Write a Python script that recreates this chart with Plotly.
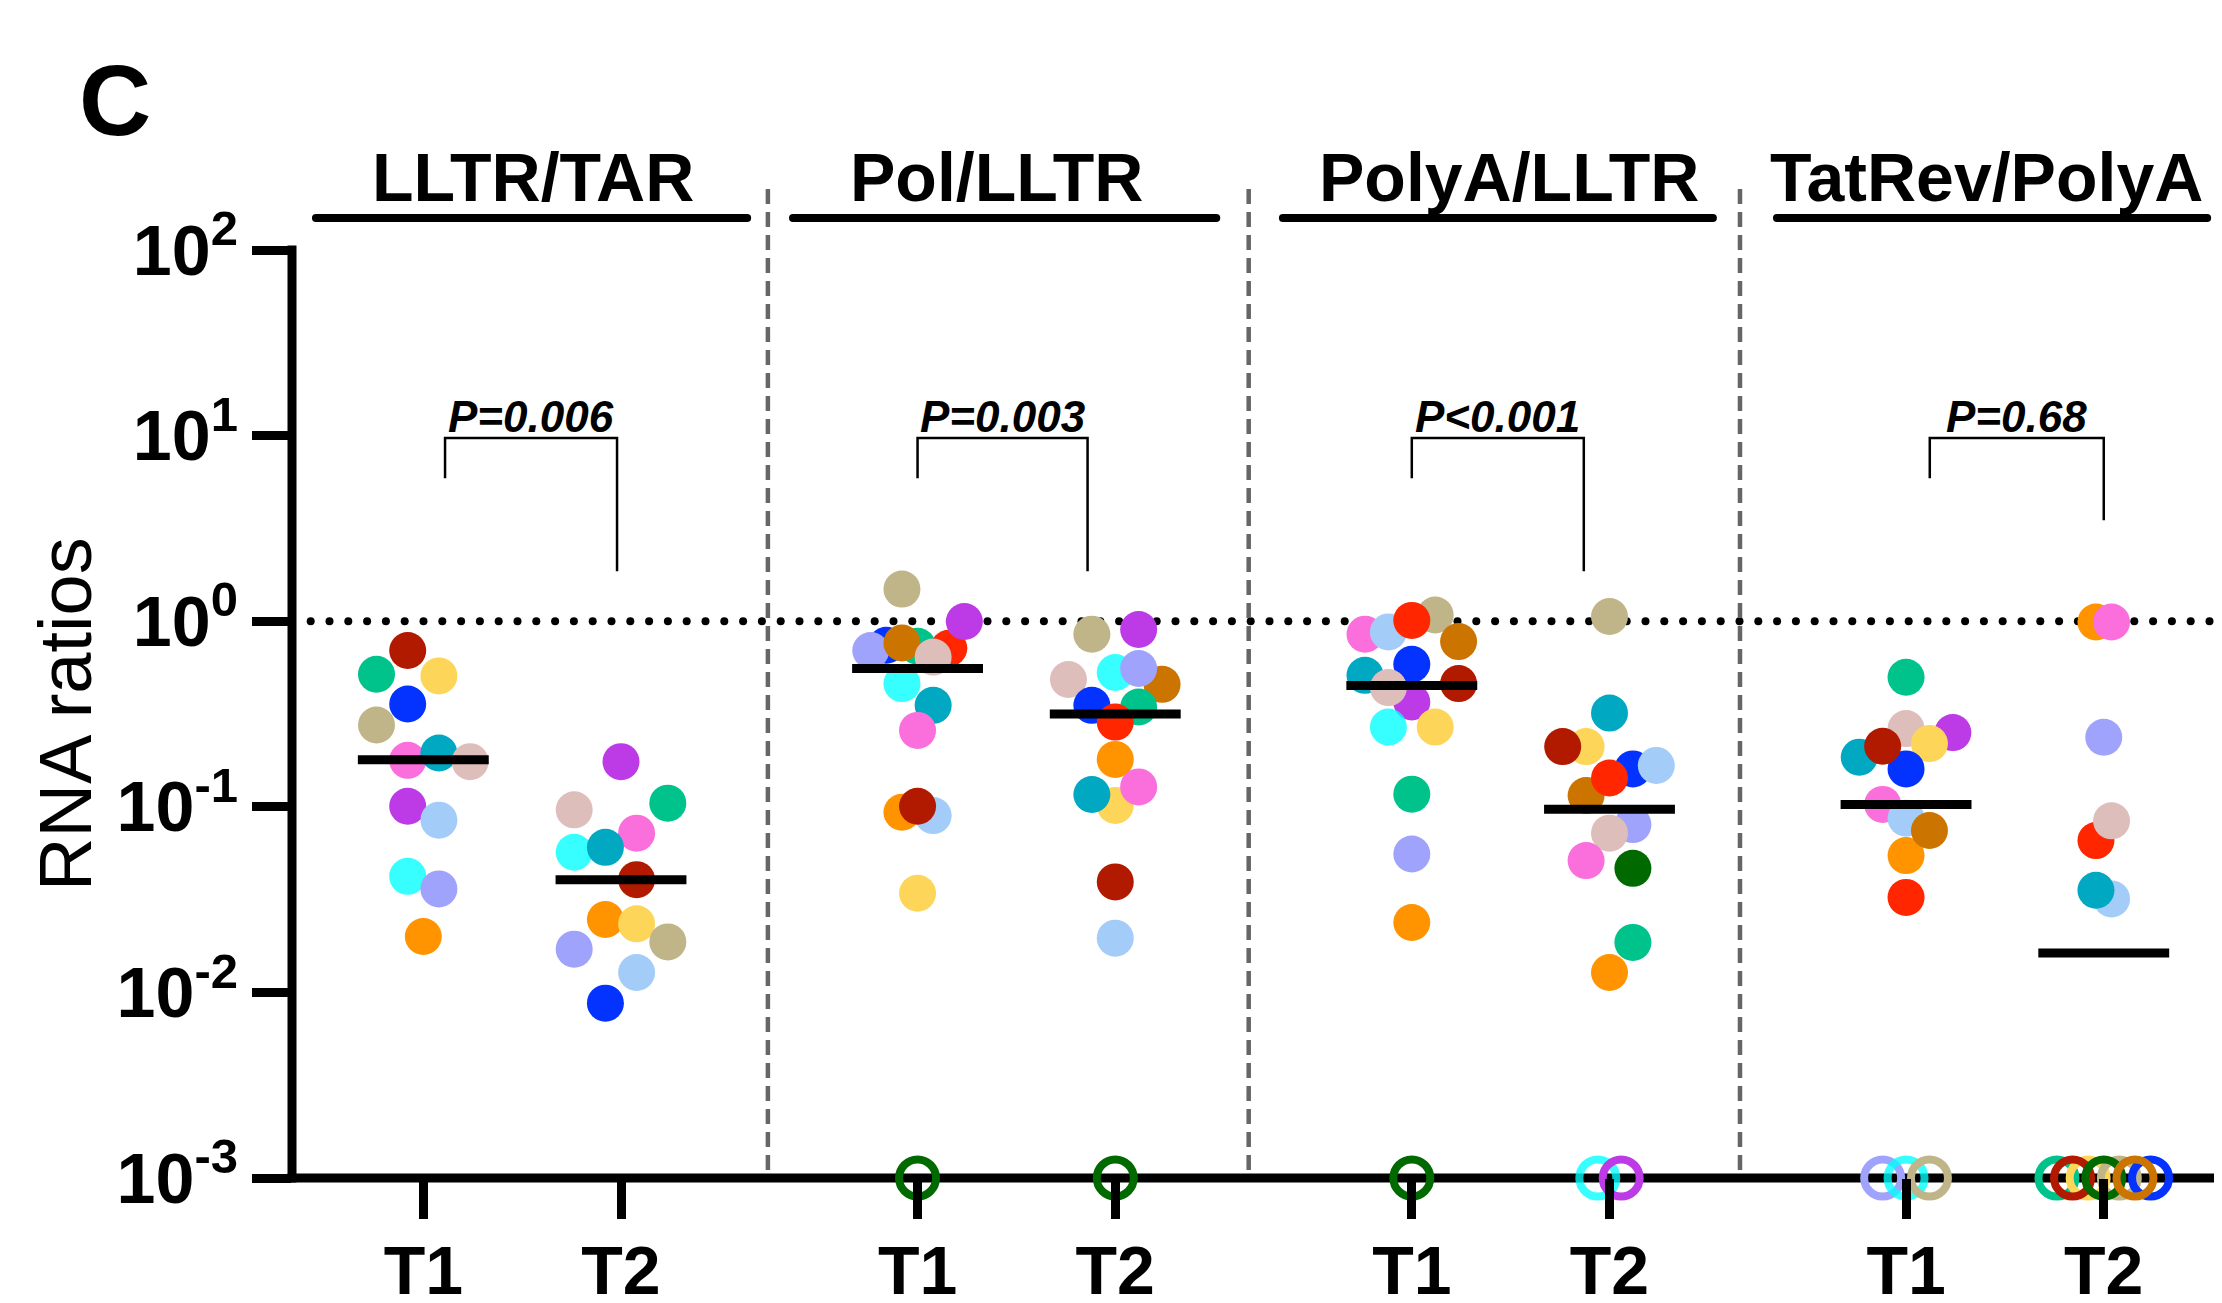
import numpy as np
import plotly.graph_objects as go

# ---------------- data ----------------
categories = ["LLTR/TAR", "Pol/LLTR", "PolyA/LLTR", "TatRev/PolyA"]
timepoints = ["T1", "T2"]
p_labels = ["P=0.006", "P=0.003", "P<0.001", "P=0.68"]
lod_value = 1e-3

medians_t1 = [0.179, 0.556, 0.450, 0.103]
medians_t2 = [0.0405, 0.316, 0.097, 0.0163]

lltr_t1_donors = ["P01", "P02", "P03", "P04", "P05", "P06", "P07", "P08", "P09", "P10", "P11", "P12", "P13"]
lltr_t1_values = [0.695, 0.518, 0.507, 0.358, 0.276, 0.178, 0.195, 0.175, 0.1007, 0.0847, 0.0422, 0.0361, 0.020]
lltr_t1_below_lod = []

lltr_t2_donors = ["P09", "P08", "P02", "P06", "P11", "P07", "P01", "P13", "P03", "P05", "P12", "P10", "P04"]
lltr_t2_values = [0.175, 0.0963, 0.1046, 0.0721, 0.0569, 0.0605, 0.0405, 0.0247, 0.0234, 0.0187, 0.0171, 0.0128, 0.00875]
lltr_t2_below_lod = []

pol_t1_donors = ["P05", "P04", "P02", "P14", "P09", "P12", "P15", "P08", "P11", "P07", "P06", "P13", "P10", "P01", "P03"]
pol_t1_values = [1.49, 0.742, 0.733, 0.715, 0.996, 0.695, 0.763, 0.641, 0.461, 0.352, 0.258, 0.0935, 0.0897, 0.1007, 0.0342]
pol_t1_below_lod = ["P16"]

pol_t2_donors = ["P05", "P09", "P08", "P11", "P15", "P12", "P04", "P02", "P14", "P13", "P03", "P07", "P06", "P01", "P10"]
pol_t2_values = [0.851, 0.902, 0.485, 0.529, 0.457, 0.556, 0.352, 0.345, 0.286, 0.180, 0.1016, 0.1165, 0.128, 0.0394, 0.0196]
pol_t2_below_lod = ["P16"]

polya_t1_donors = ["P06", "P10", "P05", "P14", "P15", "P04", "P07", "P09", "P08", "P01", "P11", "P03", "P02", "P12", "P13"]
polya_t1_values = [0.851, 0.875, 1.08, 1.01, 0.777, 0.586, 0.511, 0.367, 0.439, 0.461, 0.269, 0.269, 0.117, 0.0557, 0.0238]
polya_t1_below_lod = ["P16"]

polya_t2_donors = ["P05", "P07", "P03", "P01", "P04", "P10", "P15", "P14", "P12", "P08", "P06", "P16", "P02", "P13"]
polya_t2_values = [1.06, 0.320, 0.211, 0.211, 0.160, 0.167, 0.115, 0.143, 0.0802, 0.0721, 0.0513, 0.0466, 0.0186, 0.0128]
polya_t2_below_lod = ["P11", "P09"]

tatrev_t1_donors = ["P02", "P08", "P09", "P03", "P07", "P04", "P01", "P06", "P10", "P13", "P15", "P14"]
tatrev_t1_values = [0.499, 0.264, 0.251, 0.219, 0.185, 0.160, 0.212, 0.103, 0.0868, 0.0546, 0.0745, 0.0325]
tatrev_t1_below_lod = ["P12", "P11", "P05"]

tatrev_t2_donors = ["P13", "P06", "P12", "P14", "P08", "P10", "P07"]
tatrev_t2_values = [0.99, 0.99, 0.237, 0.0658, 0.084, 0.0319, 0.0355]
tatrev_t2_below_lod = ["P02", "P03", "P05", "P04", "P01", "P16", "P15"]

# ---------------- layout / style ----------------
donor_colors = {
    "P01": "#B21A00", "P02": "#00C38B", "P03": "#FDD659", "P04": "#0433FF",
    "P05": "#BFB588", "P06": "#FA6FDC", "P07": "#00A8C2", "P08": "#DDBEBB",
    "P09": "#BC3BE6", "P10": "#A3CDF8", "P11": "rgba(0,255,255,0.78)", "P12": "#A0A3FC",
    "P13": "#FF9300", "P14": "#FF2600", "P15": "#CC7400", "P16": "#006A00",
}

column_x = [0, 1, 2.5, 3.5, 5, 6, 7.5, 8.5]
divider_x = [1.743, 4.175, 6.66]
underline_x = [(-0.543, 1.638), (1.870, 4.011), (4.348, 6.523), (6.847, 9.023)]
title_shift = [0.057, -0.1, -0.01, -0.095]
bracket_x = [(0.11, 0.98), (2.5, 3.36), (5.0, 5.87), (7.62, 8.50)]
bracket_top = [9.7, 9.7, 9.7, 9.7]
bracket_left_end = [5.9, 5.9, 5.9, 5.9]
bracket_right_end = [1.86, 1.86, 1.86, 3.5]

# beeswarm offsets (in units of ~0.42 dot diameter)
swarm_k = [
    [-1, -3, 1, -1, -3, -1, 1, 3, -1, 1, -1, 1, 0],
    [0, -3, 3, 1, -3, -1, 1, -1, 1, 3, -3, 1, -1],
    [-1, -2, 0, 2, 3, -3, -1, 1, -1, 1, 0, -1, 1, 0, 0],
    [-1.5, 1.5, -3, 0, 3, 1.5, -1.5, 1.5, 0, 0, 0, -1.5, 1.5, 0, 0],
    [-3, -1.5, 1.5, 0, 3, 0, -3, 0, -1.5, 3, -1.5, 1.5, 0, 0, 0],
    [0, 0, -1.5, -3, 1.5, 3, -1.5, 0, 1.5, 0, -1.5, 1.5, 1.5, 0],
    [0, 0, 3, 1.5, -3, 0, -1.5, -1.5, 0, 0, 1.5, 0],
    [-0.5, 0.5, 0, -0.5, 0.5, 0.5, -0.5],
]
swarm_k_lod = [[], [], [0], [0], [0], [-0.75, 0.75], [-1.5, 0, 1.5], [-3, -1, 1, 3, -2, 0, 2]]

# page geometry (the page body adds an 8px margin around the figure)
PAGE_W, PAGE_H, BODY = 2222, 1303, 8
W, H = PAGE_W - 2 * BODY, PAGE_H - 2 * BODY
AX_LEFT, AX_TOP, AX_BOTTOM = 292, 250, 1178          # page pixel positions
ML, MT = AX_LEFT - BODY, AX_TOP - BODY
MB = H - (AX_BOTTOM - BODY)
MR = 0
PW, PH = W - ML - MR, H - MT - MB
UNIT = 197.7
X_LO = (AX_LEFT - 423.3) / UNIT
X_HI = X_LO + PW / UNIT
K_STEP = 15.6 / UNIT
FONT = "Liberation Sans, Arial, Helvetica, sans-serif"


def px_x(xv):
    return (xv - X_LO) / (X_HI - X_LO)


def py_v(v):
    return (np.log10(v) + 3) / 5.0


def py_px(ypage):
    return (AX_BOTTOM - ypage) / PH


def pxpage_x(xpage):
    return (xpage - AX_LEFT) / PW


columns = [
    (lltr_t1_donors, lltr_t1_values, lltr_t1_below_lod),
    (lltr_t2_donors, lltr_t2_values, lltr_t2_below_lod),
    (pol_t1_donors, pol_t1_values, pol_t1_below_lod),
    (pol_t2_donors, pol_t2_values, pol_t2_below_lod),
    (polya_t1_donors, polya_t1_values, polya_t1_below_lod),
    (polya_t2_donors, polya_t2_values, polya_t2_below_lod),
    (tatrev_t1_donors, tatrev_t1_values, tatrev_t1_below_lod),
    (tatrev_t2_donors, tatrev_t2_values, tatrev_t2_below_lod),
]
medians = []
for a, b in zip(medians_t1, medians_t2):
    medians += [a, b]

fig = go.Figure()

# dotted reference line at 1
dot_x = np.arange((310.7 - 423.3) / UNIT, X_HI - 0.02, 18.8 / UNIT)
fig.add_trace(go.Scatter(x=dot_x, y=[1.0] * len(dot_x), mode="markers",
                         marker=dict(size=8, color="black"), hoverinfo="skip",
                         showlegend=False, cliponaxis=False))

for ci, (donors, values, below) in enumerate(columns):
    cx = column_x[ci]
    xs = [cx + k * K_STEP for k in swarm_k[ci]]
    fig.add_trace(go.Scatter(
        x=xs, y=values, mode="markers", showlegend=False, cliponaxis=False,
        marker=dict(size=37, color=[donor_colors[d] for d in donors], line=dict(width=0)),
    ))
    if below:
        xl = [cx + k * K_STEP for k in swarm_k_lod[ci]]
        fig.add_trace(go.Scatter(
            x=xl, y=[lod_value] * len(below), mode="markers", showlegend=False, cliponaxis=False,
            marker=dict(size=37, symbol="circle-open",
                        color=[donor_colors[d] for d in below], line=dict(width=8)),
        ))

for ci, m in enumerate(medians):
    cx = column_x[ci]
    fig.add_trace(go.Scatter(x=[cx - 0.331, cx + 0.331], y=[m, m], mode="lines",
                             line=dict(color="black", width=9), showlegend=False,
                             hoverinfo="skip"))

shapes = []
# axis lines
shapes.append(dict(type="line", xref="paper", yref="paper", layer="below",
                   x0=0, x1=0, y0=-4.5 / PH, y1=1 + 4.5 / PH,
                   line=dict(color="black", width=9)))
shapes.append(dict(type="line", xref="paper", yref="paper", layer="below",
                   x0=-4.5 / PW, x1=1, y0=0, y1=0,
                   line=dict(color="black", width=9)))
# dividers
for dx in divider_x:
    shapes.append(dict(type="line", xref="paper", yref="paper",
                       x0=px_x(dx), x1=px_x(dx), y0=py_px(1170), y1=py_px(187),
                       line=dict(color="#666666", width=4.5, dash="15px,8px")))
# title underlines (with rounded ends)
for (a, b) in underline_x:
    shapes.append(dict(type="line", xref="paper", yref="paper",
                       x0=px_x(a), x1=px_x(b), y0=py_px(218), y1=py_px(218),
                       line=dict(color="black", width=8)))
    for e in (a, b):
        shapes.append(dict(type="circle", xref="paper", yref="paper",
                           x0=px_x(e) - 4 / PW, x1=px_x(e) + 4 / PW,
                           y0=py_px(218) - 4 / PH, y1=py_px(218) + 4 / PH,
                           fillcolor="black", line=dict(width=0)))
# significance brackets
for i, (a, b) in enumerate(bracket_x):
    path = "M {:.5f},{:.5f} L {:.5f},{:.5f} L {:.5f},{:.5f} L {:.5f},{:.5f}".format(
        px_x(a), py_v(bracket_left_end[i]), px_x(a), py_v(bracket_top[i]),
        px_x(b), py_v(bracket_top[i]), px_x(b), py_v(bracket_right_end[i]))
    shapes.append(dict(type="path", xref="paper", yref="paper", path=path,
                       line=dict(color="black", width=2.5)))

annotations = []
for i, cat in enumerate(categories):
    ctr = (column_x[2 * i] + column_x[2 * i + 1]) / 2 + title_shift[i]
    annotations.append(dict(text=cat, xref="paper", yref="paper", x=px_x(ctr), y=py_px(177),
                            xanchor="center", yanchor="middle", showarrow=False,
                            font=dict(family=FONT, size=68, color="black", weight="bold")))
    bc = (bracket_x[i][0] + bracket_x[i][1]) / 2
    annotations.append(dict(text=p_labels[i], xref="paper", yref="paper", x=px_x(bc), y=py_px(417),
                            xanchor="center", yanchor="middle", showarrow=False,
                            font=dict(family=FONT, size=44, color="black", weight="bold",
                                      style="italic")))
annotations.append(dict(text="C", xref="paper", yref="paper", x=pxpage_x(115), y=py_px(100),
                        xanchor="center", yanchor="middle", showarrow=False,
                        font=dict(family=FONT, size=100, color="black", weight="bold")))
annotations.append(dict(text="RNA ratios", xref="paper", yref="paper", x=pxpage_x(65), y=py_px(714),
                        xanchor="center", yanchor="middle", showarrow=False, textangle=-90,
                        font=dict(family=FONT, size=74, color="black")))

ytick_vals = [1e-3, 1e-2, 1e-1, 1e0, 1e1, 1e2]
ytick_text = ["10<sup>-3</sup>", "10<sup>-2</sup>", "10<sup>-1</sup>", "10<sup>0</sup>",
              "10<sup>1</sup>", "10<sup>2</sup>"]

fig.update_layout(
    width=W, height=H,
    margin=dict(l=ML, r=MR, t=MT, b=MB, pad=0, autoexpand=False),
    paper_bgcolor="white", plot_bgcolor="rgba(0,0,0,0)",
    shapes=shapes, annotations=annotations, showlegend=False,
    xaxis=dict(range=[X_LO, X_HI], tickvals=column_x, ticktext=timepoints * 4,
               ticks="outside", ticklen=40, tickwidth=9, tickcolor="black",
               showgrid=False, zeroline=False, showline=False, automargin=False,
               ticklabelstandoff=-7,
               tickfont=dict(family=FONT, size=68, color="black", weight="bold")),
    yaxis=dict(type="log", range=[-3, 2], tickvals=ytick_vals, ticktext=ytick_text,
               ticks="outside", ticklen=39, tickwidth=9, tickcolor="black",
               showgrid=False, zeroline=False, showline=False, automargin=False,
               tickfont=dict(family=FONT, size=70, color="black", weight="bold")),
)

fig.write_html("out.html")
